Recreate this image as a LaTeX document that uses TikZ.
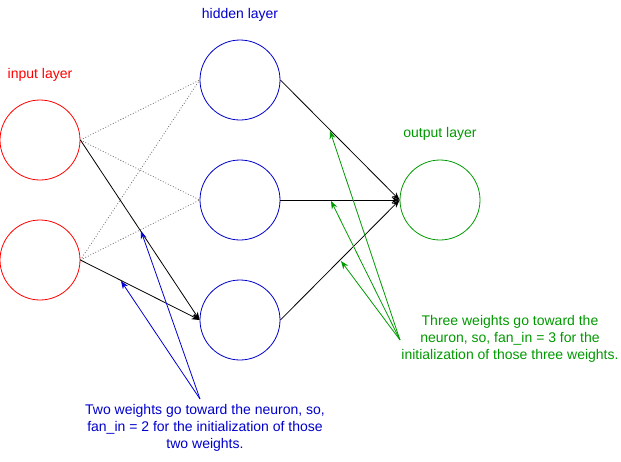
\documentclass[tikz,border=0pt]{standalone}
\usepackage{fontspec}
\setmainfont{Liberation Sans}
\usetikzlibrary{arrows.meta}
\definecolor{inred}{RGB}{255,0,0}
\definecolor{hidblue}{RGB}{0,0,204}
\definecolor{outgreen}{RGB}{0,153,0}
\tikzset{
  neuron/.style={circle, draw, line width=0.8pt, minimum size=80pt, inner sep=0pt},
  lbl/.style={font=\fontsize{14}{16}\selectfont, inner sep=0pt},
  dots/.style={draw=black!60, dotted, line width=0.8pt},
  wt/.style={draw=black, line width=0.8pt, -{Stealth[length=8pt,width=6pt]}},
  blueptr/.style={draw=hidblue, line width=0.8pt, -{Stealth[length=8pt,width=6pt]}},
  greenptr/.style={draw=outgreen, line width=0.8pt, -{Stealth[length=8pt,width=6pt]}},
  note/.style={font=\fontsize{14}{17}\selectfont, align=center, inner sep=0pt}
}
\begin{document}
\begin{tikzpicture}[x=1pt,y=-1pt]
\useasboundingbox (0,0) rectangle (621,461);
\node[neuron, draw=inred] (i1) at (40,140) {};
\node[neuron, draw=inred] (i2) at (40,260) {};
\node[neuron, draw=hidblue] (h1) at (240,80) {};
\node[neuron, draw=hidblue] (h2) at (240,200) {};
\node[neuron, draw=hidblue] (h3) at (240,320) {};
\node[neuron, draw=outgreen] (o) at (440,200) {};
\node[lbl, text=inred] (li) at (40,75) {input layer};
\node[lbl, text=hidblue] (lh) at (240,15) {hidden layer};
\node[lbl, text=outgreen] (lo) at (440,134) {output layer};
\draw[dots] (i1.east) -- (h1.west);
\draw[dots] (i1.east) -- (h2.west);
\draw[dots] (i2.east) -- (h1.west);
\draw[dots] (i2.east) -- (h2.west);
\draw[wt] (i1.east) -- (h3.west);
\draw[wt] (i2.east) -- (h3.west);
\draw[wt] (h1.east) -- (o.west);
\draw[wt] (h2.east) -- (o.west);
\draw[wt] (h3.east) -- (o.west);
\coordinate (bs) at (200,399);
\coordinate (bt1) at (141,231);
\coordinate (bt2) at (121,281);
\draw[blueptr] (bs) -- (bt1);
\draw[blueptr] (bs) -- (bt2);
\coordinate (gs) at (400,340);
\coordinate (gt1) at (330,131);
\coordinate (gt2) at (331,201);
\coordinate (gt3) at (341,261);
\draw[greenptr] (gs) -- (gt1);
\draw[greenptr] (gs) -- (gt2);
\draw[greenptr] (gs) -- (gt3);
\node[note, text=hidblue] (bn) at (205,428) {Two weights go toward the neuron, so,\\fan\_in = 2 for the initialization of those\\two weights.};
\node[note, text=outgreen] (gn) at (510,339) {Three weights go toward the\\neuron, so, fan\_in = 3 for the\\initialization of those three weights.};
\end{tikzpicture}
\end{document}
